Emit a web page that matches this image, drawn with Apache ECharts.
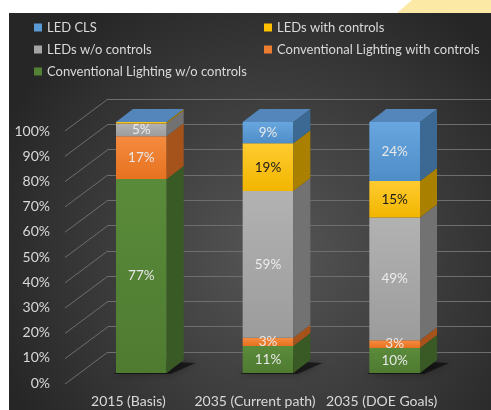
<!DOCTYPE html>
<html>
<head>
<meta charset="utf-8">
<script src="https://cdn.jsdelivr.net/npm/echarts@6/dist/echarts.min.js"></script>
<style>
  html, body { margin: 0; padding: 0; background: #fff; }
  #chart { width: 491px; height: 410px; }
</style>
</head>
<body>
<div id="chart"></div>
<script>
// data (percent of lighting stock)
const categories = ['2015 (Basis)', '2035 (Current path)', '2035 (DOE Goals)'];
const yTicks = [0, 10, 20, 30, 40, 50, 60, 70, 80, 90, 100];
const convNoControls = [77.3, 10.8, 10];
const convControls = [17, 3.2, 3];
const ledNoControls = [5.1, 58.5, 49];
const ledControls = [0.6, 19, 14.5];
const ledCls = [0, 8.5, 23.5];

// stacking order bottom -> top
const stackSeries = [
    { name: 'Conventional Lighting w/o controls', data: convNoControls, color: '#548235', light: '#5a8b3a', dark: '#4f7b31', side: '#3a5a25', label: '#e8e8e8' },
    { name: 'Conventional Lighting with controls', data: convControls, color: '#ed7d31', light: '#f58b40', dark: '#e6721f', side: '#a6531b', label: '#e8e8e8' },
    { name: 'LEDs w/o controls', data: ledNoControls, color: '#a5a5a5', light: '#b2b2b2', dark: '#9c9c9c', side: '#727272', label: '#ececec' },
    { name: 'LEDs with controls', data: ledControls, color: '#ffc000', light: '#ffcb30', dark: '#f2b600', side: '#a98000', label: '#1a1a1a' },
    { name: 'LED CLS', data: ledCls, color: '#5b9bd5', light: '#68a6e0', dark: '#4f8dc8', side: '#3b6993', top: '#5586bb', label: '#e8e8e8' }
];

// depth of a bar, in pixels (perspective offset)
const DX = 17, DY = -13;
// offset from the back wall to the front edge of the floor
const WALL_DX = -43, WALL_DY = 32;

const textColor = '#d9d9d9';
const gridColor = '#6e6e6e';
const font = 'Lato, "Open Sans", sans-serif';

function stackBase(seriesIdx, cat) {
    let b = 0;
    for (let i = 0; i < seriesIdx; i++) b += stackSeries[i].data[cat];
    return b;
}

function makeBarSeries(s, idx) {
    const isTop = idx === stackSeries.length - 1;
    return {
        type: 'custom',
        name: s.name,
        xAxisIndex: 2,
        yAxisIndex: 2,
        itemStyle: { color: s.color },
        z: 5,
        data: s.data.map((v, i) => [i, v]),
        renderItem: function (params, api) {
            const cat = api.value(0);
            const val = api.value(1);
            const base = stackBase(idx, cat);
            const p0 = api.coord([cat, base]);
            const p1 = api.coord([cat, base + val]);
            const w = api.size([1, 0])[0] * 0.4;
            const xl = p0[0] - w / 2, xr = p0[0] + w / 2;
            const y0 = p0[1], y1 = p1[1];
            const children = [];

            // soft shadow on the floor under the bar
            if (idx === 0) {
                children.push({
                    type: 'polygon',
                    shape: { points: [[xl - 2, y0 + 1], [xr + 4, y0 + 1], [xr + DX + 12, y0 + DY + 3], [xl + DX, y0 + DY]] },
                    style: { fill: 'rgba(0,0,0,0.55)', shadowBlur: 8, shadowColor: 'rgba(0,0,0,0.6)' },
                    z2: 0
                });
            }
            if (val > 0) {
                children.push({
                    type: 'rect',
                    shape: { x: xl, y: y1, width: w, height: y0 - y1 },
                    style: {
                        fill: new echarts.graphic.LinearGradient(0, 0, 0, 1, [
                            { offset: 0, color: s.light },
                            { offset: 1, color: s.dark }
                        ])
                    },
                    z2: 2
                });
                children.push({
                    type: 'polygon',
                    shape: { points: [[xr, y1], [xr + DX, y1 + DY], [xr + DX, y0 + DY], [xr, y0]] },
                    style: { fill: s.side },
                    z2: 2
                });
            }
            if (isTop) {
                children.push({
                    type: 'polygon',
                    shape: { points: [[xl, y1], [xr, y1], [xr + DX, y1 + DY], [xl + DX, y1 + DY]] },
                    style: { fill: s.top },
                    z2: 3
                });
            }
            if (val >= 2) {
                children.push({
                    type: 'text',
                    style: {
                        text: Math.round(val) + '%',
                        x: (xl + xr) / 2,
                        y: (y0 + y1) / 2,
                        align: 'center',
                        verticalAlign: 'middle',
                        fill: s.label,
                        font: '13.5px ' + font
                    },
                    z2: 10
                });
            }
            return { type: 'group', children: children };
        }
    };
}

// diagonal grid lines running from the front of the floor to the back wall
const diagSeries = {
    type: 'custom',
    xAxisIndex: 0,
    yAxisIndex: 0,
    silent: true,
    z: 1,
    data: yTicks.map(v => [0, v]),
    renderItem: function (params, api) {
        const p = api.coord([0, api.value(1)]);
        return {
            type: 'line',
            shape: { x1: p[0] + WALL_DX, y1: p[1] + WALL_DY, x2: p[0], y2: p[1] },
            style: { stroke: gridColor, lineWidth: 1 }
        };
    }
};

const chart = echarts.init(document.getElementById('chart'));

const legendBase = {
    orient: 'vertical',
    icon: 'rect',
    itemWidth: 8,
    itemHeight: 8,
    itemGap: 9,
    padding: 0,
    selectedMode: false,
    textStyle: { color: textColor, fontSize: 13, fontFamily: font }
};

const option = {
    backgroundColor: '#ffffff',
    animation: false,
    graphic: [
        {
            type: 'polygon',
            z: -20,
            shape: { points: [[412, 0], [491, 0], [491, 13], [397, 13]] },
            style: { fill: '#fce9a6' }
        },
        {
            type: 'rect',
            z: -10,
            shape: { x: 9, y: 13, width: 482, height: 397 },
            style: {
                fill: new echarts.graphic.RadialGradient(0.55, 0.6, 0.75, [
                    { offset: 0, color: '#565656' },
                    { offset: 1, color: '#262626' }
                ])
            }
        }
    ],
    legend: [
        Object.assign({ left: 34, top: 21, data: ['LED CLS', 'LEDs w/o controls', 'Conventional Lighting w/o controls'] }, legendBase),
        Object.assign({ left: 264, top: 21, data: ['LEDs with controls', 'Conventional Lighting with controls'] }, legendBase)
    ],
    grid: [
        // back wall
        { left: 108, right: 0, top: 99, bottom: 58 },
        // front edge of the floor (axis labels)
        { left: 65, right: 46, top: 131, bottom: 27 },
        // front faces of the bars
        { left: 78, right: 33, top: 122, bottom: 37 }
    ],
    xAxis: [
        { gridIndex: 0, type: 'value', min: 0, max: 1, show: false },
        {
            gridIndex: 1, type: 'category', data: categories,
            axisLine: { show: false }, axisTick: { show: false },
            axisLabel: { color: textColor, fontSize: 14, fontFamily: font, margin: 11, interval: 0 }
        },
        { gridIndex: 2, type: 'category', data: categories, show: false }
    ],
    yAxis: [
        {
            gridIndex: 0, type: 'value', min: 0, max: 100, interval: 10,
            axisLine: { show: false }, axisTick: { show: false }, axisLabel: { show: false },
            splitLine: { show: true, lineStyle: { color: gridColor, width: 1 } }
        },
        {
            gridIndex: 1, type: 'value', min: 0, max: 100, interval: 10,
            axisLine: { show: false }, axisTick: { show: false }, splitLine: { show: false },
            axisLabel: { color: textColor, fontSize: 14, fontFamily: font, margin: 15, formatter: '{value}%' }
        },
        { gridIndex: 2, type: 'value', min: 0, max: 100, show: false }
    ],
    series: [diagSeries].concat(stackSeries.map(makeBarSeries))
};

chart.setOption(option);
</script>
</body>
</html>
